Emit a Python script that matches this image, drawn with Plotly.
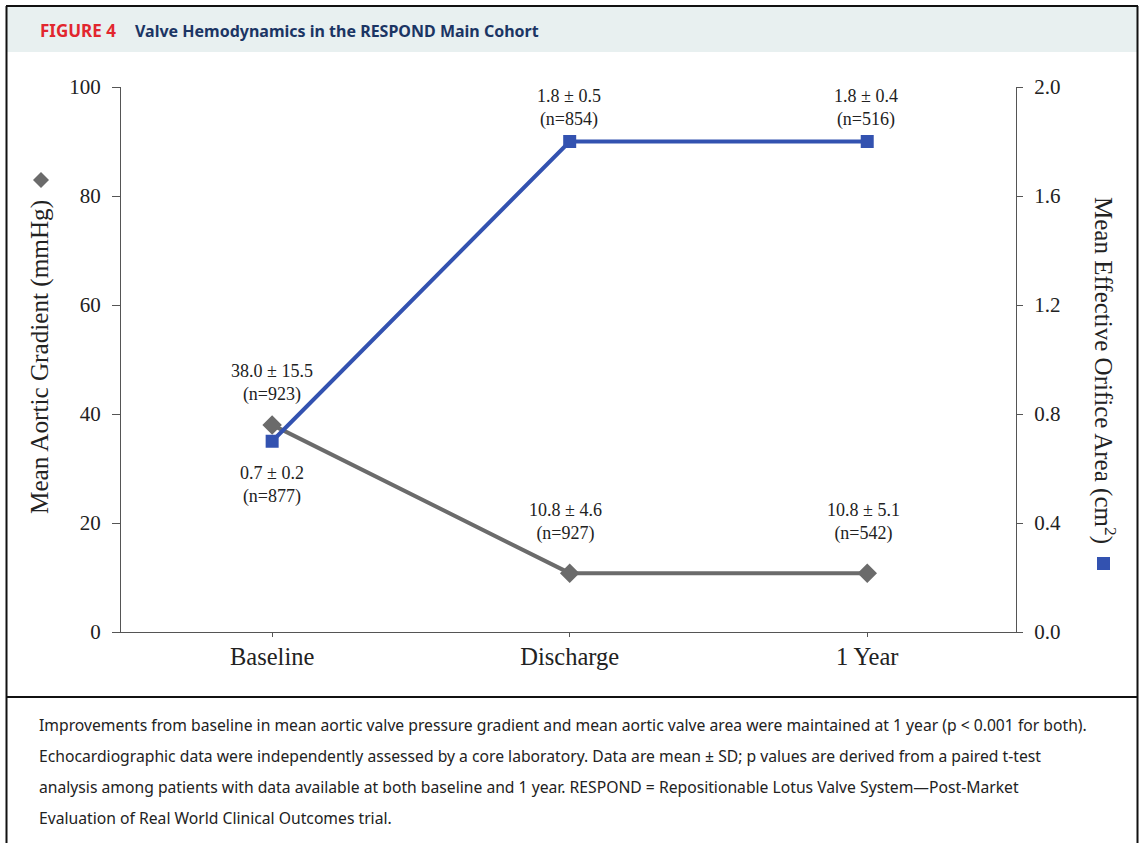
import plotly.graph_objects as go

categories = ["Baseline", "Discharge", "1 Year"]
gradient = [38.0, 10.8, 10.8]
gradient_labels = ["38.0 ± 15.5<br>(n=923)", "10.8 ± 4.6<br>(n=927)", "10.8 ± 5.1<br>(n=542)"]
eoa = [0.7, 1.8, 1.8]
eoa_labels = ["0.7 ± 0.2<br>(n=877)", "1.8 ± 0.5<br>(n=854)", "1.8 ± 0.4<br>(n=516)"]
left_ticks = [0, 20, 40, 60, 80, 100]
right_ticks = [0.0, 0.4, 0.8, 1.2, 1.6, 2.0]
right_ticktext = ["0.0", "0.4", "0.8", "1.2", "1.6", "2.0"]

caption_lines = [
    "Improvements from baseline in mean aortic valve pressure gradient and mean aortic valve area were maintained at 1 year (p < 0.001 for both).",
    "Echocardiographic data were independently assessed by a core laboratory. Data are mean ± SD; p values are derived from a paired t-test",
    "analysis among patients with data available at both baseline and 1 year. RESPOND = Repositionable Lotus Valve System—Post-Market",
    "Evaluation of Real World Clinical Outcomes trial.",
]

W, H = 1143, 843
GREY = "#6b6b6b"
BLUE = "#3352b0"
SERIF = "Liberation Serif, Times New Roman, serif"
SANS = "Noto Sans, sans-serif"

def px(x):
    return x / W

def py(y):
    return 1 - y / H

fig = go.Figure()
fig.add_trace(go.Scatter(
    x=[0, 1, 2], y=gradient, mode="lines+markers",
    line=dict(color=GREY, width=4),
    marker=dict(symbol="diamond", size=15, color=GREY),
    xaxis="x", yaxis="y", showlegend=False, hoverinfo="skip"))
fig.add_trace(go.Scatter(
    x=[0, 1, 2], y=eoa, mode="lines+markers",
    line=dict(color=BLUE, width=4),
    marker=dict(symbol="square", size=13, color=BLUE),
    xaxis="x", yaxis="y2", showlegend=False, hoverinfo="skip"))

annotations = []
for i, (v, t) in enumerate(zip(gradient, gradient_labels)):
    annotations.append(dict(x=i, y=v, xref="x", yref="y", text=t, showarrow=False,
                            xanchor="center", yanchor="bottom",
                            yshift=18 if i == 0 else 27.5,
                            xshift=0 if i == 0 else -4,
                            font=dict(family=SERIF, size=18, color="#222")))
for i, (v, t) in enumerate(zip(eoa, eoa_labels)):
    if i == 0:
        annotations.append(dict(x=i, y=v, xref="x", yref="y2", text=t, showarrow=False,
                                xanchor="center", yanchor="top", yshift=-20,
                                font=dict(family=SERIF, size=18, color="#222")))
    else:
        annotations.append(dict(x=i, y=v, xref="x", yref="y2", text=t, showarrow=False,
                                xanchor="center", yanchor="bottom", yshift=10, xshift=-1,
                                font=dict(family=SERIF, size=18, color="#222")))

# axis titles
annotations.append(dict(x=px(40), y=py(357), xref="paper", yref="paper",
                        xanchor="center", yanchor="middle",
                        text="Mean Aortic Gradient (mmHg)", textangle=-90, showarrow=False,
                        font=dict(family=SERIF, size=25.2, color="#222")))
annotations.append(dict(x=px(1104), y=py(370), xref="paper", yref="paper",
                        xanchor="center", yanchor="middle",
                        text="Mean Effective Orifice Area (cm<sup>2</sup>)", textangle=90, showarrow=False,
                        font=dict(family=SERIF, size=25, color="#222")))

# header
annotations.append(dict(x=px(38), y=py(31), xref="paper", yref="paper", xanchor="left", yanchor="middle",
                        text="<b>FIGURE 4</b>", showarrow=False,
                        font=dict(family=SANS, size=17, color="#e2262e")))
annotations.append(dict(x=px(133), y=py(31), xref="paper", yref="paper", xanchor="left", yanchor="middle",
                        text="<b>Valve Hemodynamics in the RESPOND Main Cohort</b>", showarrow=False,
                        font=dict(family=SANS, size=16, color="#1b3564")))

# caption
for k, line in enumerate(caption_lines):
    annotations.append(dict(x=px(37), y=py(725 + 31 * k), xref="paper", yref="paper",
                            xanchor="left", yanchor="middle", text=line, showarrow=False,
                            font=dict(family=SANS, size=15.7, color="#222")))

shapes = [
    dict(type="rect", xref="paper", yref="paper", x0=px(7), x1=px(1137), y0=py(52), y1=py(7),
         fillcolor="#e8f0f0", line=dict(width=0), layer="below"),
    dict(type="line", xref="paper", yref="paper", x0=px(6.5), x1=px(6.5), y0=0, y1=py(6),
         line=dict(color="#111", width=2)),
    dict(type="line", xref="paper", yref="paper", x0=px(1137.5), x1=px(1137.5), y0=0, y1=py(6),
         line=dict(color="#111", width=2)),
    dict(type="line", xref="paper", yref="paper", x0=px(6), x1=px(1138), y0=py(6), y1=py(6),
         line=dict(color="#111", width=2)),
    dict(type="line", xref="paper", yref="paper", x0=px(6), x1=px(1138), y0=py(697), y1=py(697),
         line=dict(color="#111", width=2)),
    dict(type="path", xref="paper", yref="paper",
         path=f"M {px(41)} {py(172)} L {px(49)} {py(180)} L {px(41)} {py(188)} L {px(33)} {py(180)} Z",
         fillcolor=GREY, line=dict(width=0)),
    dict(type="rect", xref="paper", yref="paper", x0=px(1097), x1=px(1110), y0=py(570), y1=py(557),
         fillcolor=BLUE, line=dict(width=0)),
]

axis_common = dict(showgrid=False, zeroline=False, showline=True, linecolor="#555", linewidth=1.2,
                   ticks="outside", tickcolor="#555", tickwidth=1.2, automargin=False,
                   tickfont=dict(family=SERIF, size=21, color="#222"))

fig.update_layout(
    width=W, height=H, margin=dict(l=0, r=0, t=0, b=0, pad=0), autosize=False,
    paper_bgcolor="white", plot_bgcolor="white",
    xaxis=dict(domain=[px(121), px(1016)], range=[-0.508, 2.5], tickmode="array",
               tickvals=[0, 1, 2], ticktext=categories, showgrid=False, zeroline=False,
               showline=True, linecolor="#555", linewidth=1.2, ticks="outside", ticklen=4,
               tickcolor="#555", tickfont=dict(family=SERIF, size=24.5, color="#222"),
               ticklabelstandoff=-2, anchor="y", automargin=False),
    yaxis=dict(domain=[py(632), py(87)], range=[0, 100], tickvals=left_ticks, ticklen=8,
               ticklabelstandoff=7, anchor="x", **axis_common),
    yaxis2=dict(domain=[py(632), py(87)], range=[0, 2], tickvals=right_ticks, ticktext=right_ticktext,
                overlaying="y", side="right", anchor="x", ticklen=6, ticklabelstandoff=7,
                **axis_common),
    annotations=annotations, shapes=shapes,
)

fig.write_html("out.html", config={"displayModeBar": False},
               post_script="document.body.style.margin='0px';document.body.style.overflow='hidden';")
